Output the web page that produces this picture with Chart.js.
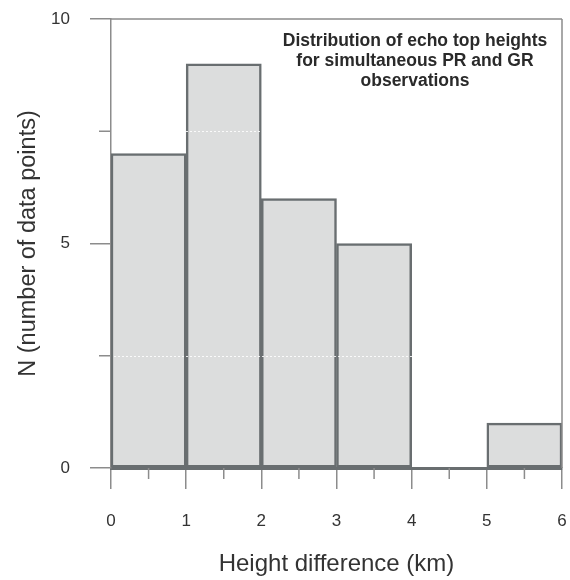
<!DOCTYPE html>
<html>
<head>
<meta charset="utf-8">
<script src="https://cdn.jsdelivr.net/npm/chart.js@4.4.1/dist/chart.umd.min.js"></script>
<style>
html,body{margin:0;padding:0;background:#fff;}
#wrap{width:570px;height:580px;position:relative;}
</style>
</head>
<body>
<div id="wrap"><canvas id="c" width="570" height="580"></canvas></div>
<script>
// Histogram bins (km) and counts
const binStarts = [0, 1, 2, 3, 4, 5];
const binWidth = 1;
const counts = [7, 9, 6, 5, 0, 1];
const xTicks = [0, 1, 2, 3, 4, 5, 6];
const yTicks = [0, 5, 10];
const xMinorTicks = [0.5, 1.5, 2.5, 3.5, 4.5, 5.5];
const yMinorTicks = [2.5, 7.5];
const titleLines = ['Distribution of echo top heights', 'for simultaneous PR and GR', 'observations'];
const xTitle = 'Height difference (km)';
const yTitle = 'N (number of data points)';

const FONT = "'Liberation Sans', Arial, sans-serif";
const AXIS = '#8c8c8c';
const BAR_BORDER = '#696e70';
const BAR_FILL = '#dcdddd';

const points = binStarts.map((s, i) => ({x: s + binWidth / 2, y: counts[i]}));

const framePlugin = {
  id: 'frame',
  afterDatasetsDraw(chart) {
    const {ctx, chartArea: a, scales: {x, y}} = chart;
    ctx.save();
    ctx.strokeStyle = 'rgba(255,255,255,0.85)';
    ctx.lineWidth = 1;
    ctx.setLineDash([2, 2]);
    yMinorTicks.forEach(v => {
      const py = Math.round(y.getPixelForValue(v)) + 0.5;
      ctx.beginPath(); ctx.moveTo(a.left + 3, py); ctx.lineTo(a.right - 3, py); ctx.stroke();
    });
    ctx.restore();
  },
  afterDraw(chart) {
    const {ctx, chartArea: a, scales: {x, y}} = chart;
    ctx.save();
    ctx.strokeStyle = AXIS;
    ctx.lineWidth = 1.5;
    // top and right frame
    ctx.beginPath();
    ctx.moveTo(a.left, a.top); ctx.lineTo(a.right, a.top);
    ctx.moveTo(a.right, a.top); ctx.lineTo(a.right, a.bottom);
    ctx.stroke();
    // minor ticks
    ctx.beginPath();
    xMinorTicks.forEach(v => {
      const px = x.getPixelForValue(v);
      ctx.moveTo(px, a.bottom); ctx.lineTo(px, a.bottom + 11);
    });
    yMinorTicks.forEach(v => {
      const py = y.getPixelForValue(v);
      ctx.moveTo(a.left - 12, py); ctx.lineTo(a.left, py);
    });
    ctx.stroke();
    // inset title
    ctx.fillStyle = '#2a2a2a';
    ctx.font = "bold 17.5px " + FONT;
    ctx.textAlign = 'center';
    ctx.textBaseline = 'middle';
    const cx = a.left + (a.right - a.left) * 0.674;
    titleLines.forEach((t, i) => ctx.fillText(t, cx, a.top + 22 + i * 20));
    ctx.restore();
  }
};

new Chart(document.getElementById('c'), {
  type: 'bar',
  data: {
    datasets: [{
      data: points,
      backgroundColor: BAR_FILL,
      borderColor: BAR_BORDER,
      borderWidth: 2.5,
      borderSkipped: false,
      barPercentage: 1,
      categoryPercentage: 1
    }]
  },
  options: {
    responsive: false,
    animation: false,
    devicePixelRatio: 1,
    layout: {autoPadding: false, padding: {top: 19, right: 8, left: 0, bottom: 0}},
    plugins: {legend: {display: false}, tooltip: {enabled: false}, title: {display: false}},
    scales: {
      x: {
        type: 'linear',
        min: 0, max: 6,
        offset: false,
        afterBuildTicks(s) { s.ticks = xTicks.map(v => ({value: v})); },
        afterFit(s) { s.height = 112; s.paddingLeft = 0; s.paddingRight = 0; s.paddingTop = 0; s.paddingBottom = 0; },
        ticks: {font: {family: FONT, size: 17}, color: '#333', padding: 22, maxRotation: 0},
        grid: {drawOnChartArea: false, offset: false, tickLength: 21, color: AXIS, lineWidth: 1.5},
        border: {display: true, color: BAR_BORDER, width: 3},
        title: {display: true, text: xTitle, font: {family: FONT, size: 24}, color: '#333', padding: {top: 0, bottom: 1}}
      },
      y: {
        type: 'linear',
        min: 0, max: 10,
        afterBuildTicks(s) { s.ticks = yTicks.map(v => ({value: v})); },
        afterFit(s) { s.width = 111; s.paddingLeft = 0; s.paddingRight = 0; s.paddingTop = 0; s.paddingBottom = 0; },
        ticks: {font: {family: FONT, size: 17}, color: '#333', padding: 20},
        grid: {drawOnChartArea: false, tickLength: 21, color: AXIS, lineWidth: 1.5},
        border: {display: true, color: AXIS, width: 1.5},
        title: {display: true, text: yTitle, font: {family: FONT, size: 23.5}, color: '#333', padding: {top: 14, bottom: 0}}
      }
    }
  },
  plugins: [framePlugin]
});
</script>
</body>
</html>
